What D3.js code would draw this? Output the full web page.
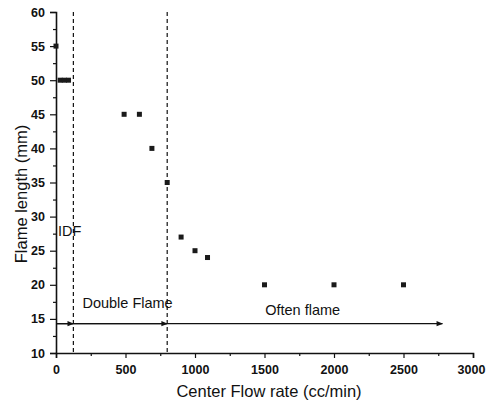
<!DOCTYPE html>
<html>
<head>
<meta charset="utf-8">
<script src="https://cdn.jsdelivr.net/npm/d3@7"></script>
<style>
  html, body { margin: 0; padding: 0; background: #fff; }
  svg { display: block; }
  text { font-family: "Liberation Sans", Arial, sans-serif; fill: #111; }
</style>
</head>
<body>
<svg id="chart" width="486" height="403"></svg>
<script>
// Measured flame length against center flow rate
const flowRate    = [0, 30, 60, 90, 490, 600, 690, 800, 900, 1000, 1090, 1500, 2000, 2500];
const flameLength = [55, 50, 50, 50, 45, 45, 40, 35, 27, 25, 24, 20, 20, 20];

// Regime boundaries (cc/min) and the level of the regime arrows (mm)
const boundaries = [125, 800];
const arrowLevel = 14.3;
const arrowEnd = 2780;
const regimes = [
  { name: "IDF",          x: 15,   y: 27.2 },
  { name: "Double Flame", x: 190,  y: 16.6 },
  { name: "Often flame",  x: 1505, y: 15.5 }
];

const xTicks = [0, 500, 1000, 1500, 2000, 2500, 3000];
const yTicks = [10, 15, 20, 25, 30, 35, 40, 45, 50, 55, 60];
const xMinor = [250, 750, 1250, 1750, 2250, 2750];
const yMinor = [12.5, 17.5, 22.5, 27.5, 32.5, 37.5, 42.5, 47.5, 52.5, 57.5];

const svg = d3.select("#chart");
const x = d3.scaleLinear().domain([0, 3000]).range([56, 473]);
const y = d3.scaleLinear().domain([10, 60]).range([353, 12]);

// arrowhead
svg.append("defs").append("marker")
  .attr("id", "arrow").attr("viewBox", "0 0 10 10")
  .attr("refX", 9).attr("refY", 5)
  .attr("markerWidth", 7).attr("markerHeight", 5)
  .attr("orient", "auto")
  .append("path").attr("d", "M0,1 L10,5 L0,9 Z").attr("fill", "#111");

// x axis
const gx = svg.append("g").attr("transform", `translate(0,${y(10)})`);
gx.call(d3.axisBottom(x).tickValues(xTicks).tickSize(5).tickPadding(7).tickFormat(d3.format("d")));
// keep the last label inside the page
gx.selectAll(".tick text").filter(d => d === 3000).attr("dx", -2);
svg.append("g").attr("transform", `translate(0,${y(10)})`)
  .call(d3.axisBottom(x).tickValues(xMinor).tickSize(3).tickFormat(""))
  .select(".domain").remove();

// y axis
const gy = svg.append("g").attr("transform", `translate(${x(0)},0)`);
gy.call(d3.axisLeft(y).tickValues(yTicks).tickSize(6).tickPadding(5).tickFormat(d3.format("d")));
svg.append("g").attr("transform", `translate(${x(0)},0)`)
  .call(d3.axisLeft(y).tickValues(yMinor).tickSize(3).tickFormat(""))
  .select(".domain").remove();

svg.selectAll(".domain").attr("stroke", "#111").attr("stroke-width", 1.6);
svg.selectAll(".tick line").attr("stroke", "#111").attr("stroke-width", 1.2);
svg.selectAll(".tick text")
  .attr("font-family", "'Liberation Sans', Arial, sans-serif")
  .attr("font-size", 12.5).attr("font-weight", "bold").attr("fill", "#111");

// axis titles
svg.append("text")
  .attr("x", 269).attr("y", 397)
  .attr("text-anchor", "middle").attr("font-size", 16.5)
  .text("Center Flow rate (cc/min)");
svg.append("text")
  .attr("transform", `translate(27,194) rotate(-90)`)
  .attr("text-anchor", "middle").attr("font-size", 16.5)
  .text("Flame length (mm)");

// regime boundaries
svg.selectAll(".boundary").data(boundaries).enter().append("line")
  .attr("class", "boundary")
  .attr("x1", d => x(d)).attr("x2", d => x(d))
  .attr("y1", y(60)).attr("y2", y(10))
  .attr("stroke", "#111").attr("stroke-width", 1.2)
  .attr("stroke-dasharray", "4,3");

// regime arrows
svg.append("line")
  .attr("x1", x(0)).attr("x2", x(arrowEnd))
  .attr("y1", y(arrowLevel)).attr("y2", y(arrowLevel))
  .attr("stroke", "#111").attr("stroke-width", 1.3)
  .attr("marker-end", "url(#arrow)");
svg.append("line")
  .attr("x1", x(0)).attr("x2", x(boundaries[0]))
  .attr("y1", y(arrowLevel)).attr("y2", y(arrowLevel))
  .attr("stroke", "#111").attr("stroke-width", 1.3)
  .attr("marker-end", "url(#arrow)");
svg.append("line")
  .attr("x1", x(boundaries[0])).attr("x2", x(boundaries[1]))
  .attr("y1", y(arrowLevel)).attr("y2", y(arrowLevel))
  .attr("stroke", "#111").attr("stroke-width", 1.3)
  .attr("marker-end", "url(#arrow)");

// regime labels
svg.selectAll(".regime").data(regimes).enter().append("text")
  .attr("class", "regime")
  .attr("x", d => x(d.x)).attr("y", d => y(d.y))
  .attr("font-size", 14.5)
  .text(d => d.name);

// data points
const pts = flowRate.map((f, i) => ({ f, L: flameLength[i] }));
svg.selectAll(".pt").data(pts).enter().append("rect")
  .attr("class", "pt")
  .attr("x", d => x(d.f) - 2.5).attr("y", d => y(d.L) - 2.5)
  .attr("width", 5).attr("height", 5)
  .attr("fill", "#1a1a1a");
</script>
</body>
</html>
